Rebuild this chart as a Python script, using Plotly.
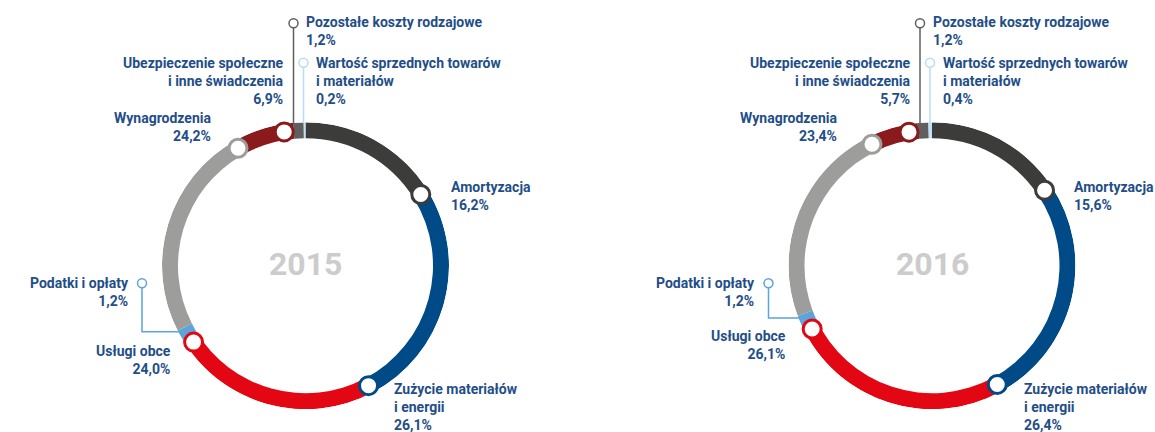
import math
import plotly.graph_objects as go

# ---------------- data ----------------
categories = [
    "Amortyzacja",
    "Zużycie materiałów i energii",
    "Usługi obce",
    "Podatki i opłaty",
    "Wynagrodzenia",
    "Ubezpieczenie społeczne i inne świadczenia",
    "Pozostałe koszty rodzajowe",
    "Wartość sprzednych towarów i materiałów",
]
years = ["2015", "2016"]
values_2015 = [16.2, 26.1, 24.0, 1.2, 24.2, 6.9, 1.2, 0.2]
values_2016 = [15.6, 26.4, 26.1, 1.2, 23.4, 5.7, 1.2, 0.4]
value_labels_2015 = ["16,2%", "26,1%", "24,0%", "1,2%", "24,2%", "6,9%", "1,2%", "0,2%"]
value_labels_2016 = ["15,6%", "26,4%", "26,1%", "1,2%", "23,4%", "5,7%", "1,2%", "0,4%"]
label_lines = [
    ["Amortyzacja"],
    ["Zużycie materiałów", "i energii"],
    ["Usługi obce"],
    ["Podatki i opłaty"],
    ["Wynagrodzenia"],
    ["Ubezpieczenie społeczne", "i inne świadczenia"],
    ["Pozostałe koszty rodzajowe"],
    ["Wartość sprzednych towarów", "i materiałów"],
]

# ---------------- style ----------------
colors = ["#3c3c3b", "#004a87", "#e30613", "#5ba4dc", "#9d9d9c", "#8b1a1c", "#5f5f5f", "#c2e0f6"]
TEXT = "#1f4e88"
W, H = 1155, 432
R_OUT, R_IN, R_MID = 143.5, 127.5, 135.5
CY = 265.7
centers_x = [305.5, 932.0]
marker_idx = [0, 1, 2, 4, 5]
marker_back = {0: 0.0, 1: 0.0, 2: 3.0, 4: 0.0, 5: 4.0}  # degrees
FONT = dict(family="Roboto", size=14, color=TEXT, weight=700)


def px(x):
    return x / W


def py(y):
    return 1 - y / H


fig = go.Figure()
annotations = []
shapes = []

datasets = [(values_2015, value_labels_2015), (values_2016, value_labels_2016)]

for k, (vals, vlabels) in enumerate(datasets):
    cx = centers_x[k]
    pname = "polar" if k == 0 else "polar2"
    sub = "polar" if k == 0 else "polar2"
    starts = []
    acc = 0.0
    for v in vals:
        starts.append(acc)
        acc += v
    theta_c = [(s + v / 2) * 3.6 for s, v in zip(starts, vals)]
    widths = [v * 3.6 for v in vals]
    fig.add_trace(go.Barpolar(
        theta=theta_c, width=widths, r=[R_OUT - R_IN] * len(vals), base=[R_IN] * len(vals),
        marker=dict(color=colors, line=dict(width=0)), subplot=sub,
        hoverinfo="skip", name=years[k],
    ))
    m_theta = [(starts[i] + vals[i]) * 3.6 - marker_back[i] for i in marker_idx]
    fig.add_trace(go.Scatterpolar(
        theta=m_theta, r=[R_MID] * len(marker_idx), mode="markers", subplot=sub,
        marker=dict(size=18, color="white", line=dict(width=3, color=[colors[i] for i in marker_idx])),
        cliponaxis=False, hoverinfo="skip",
    ))
    fig.update_layout(**{pname: dict(
        domain=dict(x=[px(cx - R_OUT), px(cx + R_OUT)], y=[py(CY + R_OUT), py(CY - R_OUT)]),
        bgcolor="rgba(0,0,0,0)",
        radialaxis=dict(visible=False, range=[0, R_OUT]),
        angularaxis=dict(visible=False, rotation=90, direction="clockwise"),
        barmode="overlay",
    )})

    # year in the middle
    annotations.append(dict(x=px(cx), y=py(CY - 2), xref="paper", yref="paper", text=years[k],
                            showarrow=False, xanchor="center", yanchor="middle",
                            font=dict(family="Roboto", size=32, color="#cccccc", weight=700)))

    # label positions (pixels, first line center)
    if k == 0:
        pos = {0: (cx + 144, 187.5, "left"), 1: (cx + 87.5, 389.5, "left"), 2: (cx - 133.2, 351.7, "right"),
               3: (cx - 175.5, 283.3, "right"), 4: (cx - 94, 118.3, "right"), 5: (cx - 20.3, 63.3, "right"),
               6: (cx - 0.5, 22.7, "left"), 7: (cx + 9.5, 63.3, "left")}
    else:
        pos = {0: (cx + 141, 187.5, "left"), 1: (cx + 90.8, 389.5, "left"), 2: (cx - 145.2, 336.7, "right"),
               3: (cx - 176, 283.3, "right"), 4: (cx - 94, 118.3, "right"), 5: (cx - 20.3, 63.3, "right"),
               6: (cx - 0.5, 22.7, "left"), 7: (cx + 9.5, 63.3, "left")}
    for i, (x, y, anc) in pos.items():
        text = "<br>".join(label_lines[i] + [vlabels[i]])
        annotations.append(dict(x=px(x), y=py(y - 9.5), xref="paper", yref="paper", text=text,
                                showarrow=False, xanchor=anc, yanchor="top", align=anc,
                                borderpad=0, font=FONT))

    # leader lines
    top = CY - R_OUT + 1
    shapes.append(dict(type="line", xref="paper", yref="paper", x0=px(cx - 12), x1=px(cx - 12),
                       y0=py(27.5), y1=py(top), line=dict(color="#5f5f5f", width=1.5)))
    shapes.append(dict(type="line", xref="paper", yref="paper", x0=px(cx - 2), x1=px(cx - 2),
                       y0=py(67), y1=py(top), line=dict(color="#b9dcf4", width=1.5)))
    mid = math.radians(theta_c[3])
    ly = CY - R_MID * math.cos(mid)
    lx = cx + R_OUT * math.sin(mid)
    ccx = cx - 163.5
    shapes.append(dict(type="path", xref="paper", yref="paper",
                       path=f"M {px(ccx)} {py(287.8)} L {px(ccx)} {py(ly)} L {px(lx)} {py(ly)}",
                       line=dict(color="#5ba4dc", width=1.5)))
    for (xx, yy, col) in [(cx - 12, 23.3, "#5f5f5f"), (cx - 2, 62.7, "#b9dcf4"), (ccx, 283.3, "#5ba4dc")]:
        shapes.append(dict(type="circle", xref="paper", yref="paper",
                           x0=px(xx - 4.5), x1=px(xx + 4.5), y0=py(yy + 4.5), y1=py(yy - 4.5),
                           fillcolor="white", line=dict(color=col, width=1.5)))

fig.update_layout(
    width=W, height=H, margin=dict(l=0, r=0, t=0, b=0),
    paper_bgcolor="white", plot_bgcolor="white", showlegend=False,
    annotations=annotations, shapes=shapes,
)

fig.write_html("out.html", config={"displayModeBar": False, "staticPlot": True},
               post_script="document.body.style.margin='0px';document.body.style.padding='0px';document.body.style.overflow='hidden';")
